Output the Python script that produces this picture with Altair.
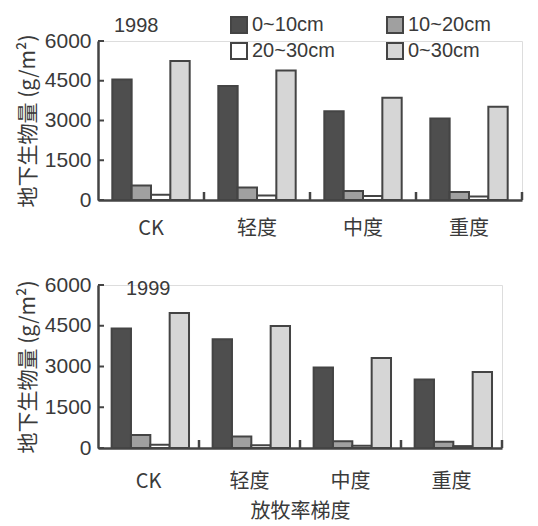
import altair as alt
import pandas as pd

categories = ["CK", "轻度", "中度", "重度"]
layers = ["0~10cm", "10~20cm", "20~30cm", "0~30cm"]
v1998_0_10 = [4550, 4300, 3350, 3080]
v1998_10_20 = [550, 470, 340, 300]
v1998_20_30 = [200, 170, 150, 130]
v1998_0_30 = [5250, 4890, 3860, 3520]
v1999_0_10 = [4400, 4000, 2960, 2520]
v1999_10_20 = [480, 420, 250, 230]
v1999_20_30 = [120, 100, 80, 70]
v1999_0_30 = [4970, 4490, 3310, 2800]
y_ticks = [0, 1500, 3000, 4500, 6000]
fills = {"0~10cm": "#4e4e4e", "10~20cm": "#a0a0a0", "20~30cm": "#ffffff", "0~30cm": "#d6d6d6"}
legend_order = ["0~10cm", "20~30cm", "10~20cm", "0~30cm"]

FONT = "Liberation Sans"
CJK = "Noto Sans CJK SC"
TXT = "#3a3a3a"


def make_df(series):
    rows = []
    for layer, vals in zip(layers, series):
        for c, v in zip(categories, vals):
            rows.append({"cat": c, "layer": layer, "value": v})
    return pd.DataFrame(rows)


df98 = make_df([v1998_0_10, v1998_10_20, v1998_20_30, v1998_0_30])
df99 = make_df([v1999_0_10, v1999_10_20, v1999_20_30, v1999_0_30])
ticks_df = pd.DataFrame({"t": y_ticks})
cats_df = pd.DataFrame({"cat": categories})

P = 0.27


def panel(df, year, w, h, show_legend, show_xtitle, year_x, year_y, lab_pad):
    xscale = alt.Scale(domain=categories, paddingInner=P, paddingOuter=P / 2)
    yscale = alt.Scale(domain=[0, 6000], nice=False)
    xaxis = alt.Axis(title="放牧率梯度" if show_xtitle else None,
                     titleFont=CJK, titleFontSize=20, titleFontWeight="normal",
                     titleColor=TXT, titlePadding=10,
                     labelFont=CJK, labelFontSize=20, labelColor=TXT,
                     labelAngle=0, labelPadding=lab_pad, ticks=False,
                     domainColor="#444", domainWidth=2.5)
    yaxis = alt.Axis(title="地下生物量 (g/m²)", titleFont=CJK, titleFontSize=21,
                     titleFontWeight="normal", titleColor=TXT, titlePadding=6,
                     values=y_ticks, format="d", labelOverlap=False,
                     labelFont=FONT, labelFontSize=21,
                     labelColor=TXT, labelPadding=7, ticks=False, grid=False,
                     domainColor="#444", domainWidth=2.5)
    legend = None
    if show_legend:
        legend = alt.Legend(
            title=None, orient="none", legendX=131, legendY=-26, columns=2,
            columnPadding=48, rowPadding=2, symbolType="square", symbolSize=256,
            symbolStrokeWidth=2, symbolStrokeColor="#444", labelFont=FONT,
            labelFontSize=20, labelColor=TXT, labelOffset=3,
        )
    bars = alt.Chart(df).mark_bar(stroke="#444", strokeWidth=2).encode(
        x=alt.X("cat:N", scale=xscale, sort=categories, axis=xaxis),
        xOffset=alt.XOffset("layer:N", sort=layers, scale=alt.Scale(domain=layers, paddingInner=0)),
        y=alt.Y("value:Q", scale=yscale, axis=yaxis),
        color=alt.Color("layer:N", sort=legend_order,
                        scale=alt.Scale(domain=legend_order,
                                        range=[fills[k] for k in legend_order]),
                        legend=legend),
    )
    yt = alt.Chart(ticks_df).mark_rule(color="#444", strokeWidth=2).encode(
        y=alt.Y("t:Q", scale=yscale, axis=yaxis), x=alt.value(0), x2=alt.value(6)
    )
    gap = P * (w / len(categories)) / 2
    xt = alt.Chart(cats_df).mark_rule(color="#444", strokeWidth=2.5, xOffset=gap).encode(
        x=alt.X("cat:N", scale=xscale, sort=categories, bandPosition=1, axis=xaxis),
        y=alt.value(h), y2=alt.value(h - 8)
    )
    yr = alt.Chart(pd.DataFrame({"y": [year]})).mark_text(
        font=FONT, fontSize=20, color=TXT, align="left", baseline="middle"
    ).encode(text="y:N", x=alt.value(year_x), y=alt.value(year_y))
    return alt.layer(bars, yt, xt, yr).properties(width=w, height=h)


top = panel(df98, "1998", 424, 159, True, False, 16, -15, 18)
bottom = panel(df99, "1999", 404, 163, False, True, 28, 4, 23)

chart = alt.vconcat(top, bottom, spacing=34).resolve_legend(color="independent").configure_view(
    stroke=None
).configure(padding={"left": 8, "top": 6, "right": 0, "bottom": 0})

chart.save("out.html", embed_options={"renderer": "svg", "actions": False})
